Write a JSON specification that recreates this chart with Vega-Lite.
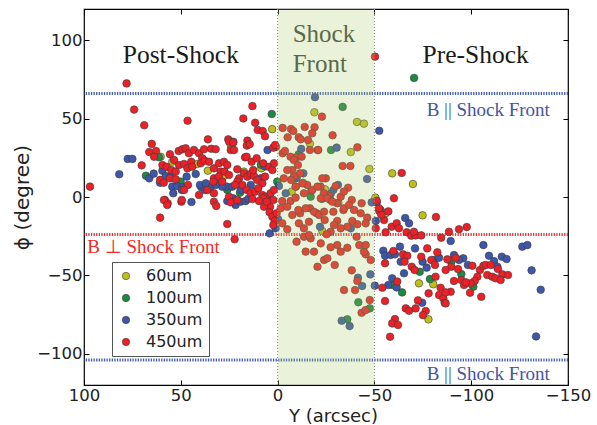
{
  "$schema": "https://vega.github.io/schema/vega-lite/v6.json",
  "width": 484,
  "height": 376,
  "autosize": {"type": "none"},
  "padding": {"left": 84, "top": 9, "right": 29, "bottom": 40},
  "background": "white",
  "config": {
    "view": {"stroke": "#000", "strokeWidth": 1.2},
    "axis": {"domain": false, "grid": false, "ticks": true, "tickSize": -5, "tickColor": "#000", "tickWidth": 1,
      "labelFont": "DejaVu Sans", "labelFontSize": 16.5, "labelColor": "#222", "labelFlush": false,
      "titleFont": "DejaVu Sans", "titleFontSize": 20, "titleFontWeight": "normal", "titleColor": "#222"},
    "legend": {"orient": "none", "legendX": 28, "legendY": 253, "title": null, "padding": 6, "rowPadding": 6,
      "labelFont": "DejaVu Sans", "labelFontSize": 16, "labelColor": "#222", "labelOffset": 12,
      "symbolType": "circle", "symbolSize": 55, "symbolStrokeColor": "#3a3a3a", "symbolStrokeWidth": 0.6,
      "strokeColor": "#555", "fillColor": "white", "cornerRadius": 0}
  },
  "datasets": {
    "pts": [
      {"b":"60um","x":2.8,"y":43.3},{"b":"60um","x":-19,"y":54.1},{"b":"60um","x":-16.7,"y":34},{"b":"60um","x":24.2,"y":33.2},
      {"b":"60um","x":-41,"y":47.9},{"b":"60um","x":-44.6,"y":46.8},{"b":"60um","x":-37.8,"y":28.7},{"b":"60um","x":-47.4,"y":17.9},
      {"b":"60um","x":-59.2,"y":15.1},{"b":"60um","x":-69.9,"y":8.3},{"b":"60um","x":-50.5,"y":-0.4},{"b":"60um","x":-74.9,"y":-11.7},
      {"b":"60um","x":-23.1,"y":-21.7},{"b":"60um","x":-73,"y":-55.1},{"b":"60um","x":-77.9,"y":-78.1},{"b":"60um","x":60.4,"y":25.7},
      {"b":"60um","x":54.4,"y":22.5},{"b":"60um","x":41.5,"y":21.1},{"b":"60um","x":36,"y":16.8},{"b":"60um","x":17.4,"y":16.2},
      {"b":"60um","x":8.4,"y":18.3},{"b":"60um","x":27.7,"y":13.4},{"b":"60um","x":-13.1,"y":9.1},{"b":"60um","x":-9.5,"y":6.6},
      {"b":"60um","x":-7.3,"y":3.4},{"b":"60um","x":-31.4,"y":-3.6},{"b":"60um","x":-24.5,"y":4.9},{"b":"60um","x":-55.8,"y":-10.4},
      {"b":"60um","x":-80.4,"y":-55.7},

      {"b":"100um","x":3,"y":53},{"b":"100um","x":-70.5,"y":76},{"b":"100um","x":-33.6,"y":57.5},{"b":"100um","x":-27.6,"y":30},
      {"b":"100um","x":-10.9,"y":27.3},{"b":"100um","x":68,"y":13.6},{"b":"100um","x":61.3,"y":25.4},{"b":"100um","x":50.1,"y":9.8},
      {"b":"100um","x":26,"y":4.5},{"b":"100um","x":0.2,"y":9.8},{"b":"100um","x":-9,"y":11.9},{"b":"100um","x":-17.1,"y":0.2},
      {"b":"100um","x":-22.9,"y":-1.2},{"b":"100um","x":-53.2,"y":-8.3},{"b":"100um","x":-73.4,"y":-47.7},{"b":"100um","x":-59.4,"y":-56.2},
      {"b":"100um","x":-64.3,"y":-60.9},{"b":"100um","x":-78.7,"y":-52.4},{"b":"100um","x":-41.7,"y":-67.2},{"b":"100um","x":-47.6,"y":-71.1},
      {"b":"100um","x":-94.9,"y":-49.2},{"b":"100um","x":-101.1,"y":-57.3},{"b":"100um","x":-89.7,"y":-41.3},{"b":"100um","x":-36,"y":-78.1},
      {"b":"100um","x":19.4,"y":2.7},{"b":"100um","x":8.6,"y":20.6},

      {"b":"350um","x":-19.3,"y":63.7},{"b":"350um","x":-52.5,"y":42.3},{"b":"350um","x":77.4,"y":24.3},{"b":"350um","x":75,"y":24.3},
      {"b":"350um","x":81.8,"y":14.5},{"b":"350um","x":66.3,"y":11.9},{"b":"350um","x":64,"y":14.9},{"b":"350um","x":59.5,"y":16.8},
      {"b":"350um","x":57.8,"y":13.4},{"b":"350um","x":55.2,"y":13},{"b":"350um","x":60.7,"y":9.1},{"b":"350um","x":54.4,"y":6.6},
      {"b":"350um","x":51.8,"y":7},{"b":"350um","x":49.2,"y":6.2},{"b":"350um","x":47,"y":13},{"b":"350um","x":42.3,"y":14.7},
      {"b":"350um","x":39.4,"y":6.2},{"b":"350um","x":53.9,"y":2.4},{"b":"350um","x":49.5,"y":4.5},{"b":"350um","x":40.1,"y":7.7},
      {"b":"350um","x":37.5,"y":4.5},{"b":"350um","x":32.4,"y":9.1},{"b":"350um","x":35.8,"y":5.6},{"b":"350um","x":29.8,"y":8.7},
      {"b":"350um","x":26.3,"y":6.6},{"b":"350um","x":34.6,"y":6.6},{"b":"350um","x":28.6,"y":6.6},{"b":"350um","x":23.4,"y":6.6},
      {"b":"350um","x":19.1,"y":4.5},{"b":"350um","x":13.9,"y":7.7},{"b":"350um","x":8.7,"y":11.9},{"b":"350um","x":5.3,"y":0.2},
      {"b":"350um","x":-0.7,"y":7},{"b":"350um","x":-4.2,"y":2.4},{"b":"350um","x":-9.7,"y":12.1},{"b":"350um","x":22.9,"y":35.3},
      {"b":"350um","x":5.2,"y":30},{"b":"350um","x":-12.2,"y":30.7},{"b":"350um","x":-30.5,"y":31.5},{"b":"350um","x":-46.2,"y":11.5},
      {"b":"350um","x":-31.2,"y":7.7},{"b":"350um","x":-28.8,"y":4.5},{"b":"350um","x":-27.4,"y":1.9},{"b":"350um","x":44.5,"y":-3.2},
      {"b":"350um","x":26,"y":-2.6},{"b":"350um","x":21.7,"y":-5.1},{"b":"350um","x":19.1,"y":-3},{"b":"350um","x":16.5,"y":-2.6},
      {"b":"350um","x":22.9,"y":-0.8},{"b":"350um","x":15.1,"y":-1.1},{"b":"350um","x":4.1,"y":-23.2},{"b":"350um","x":1,"y":-20},
      {"b":"350um","x":-0.2,"y":-14},{"b":"350um","x":-21.9,"y":-19},{"b":"350um","x":-37.8,"y":-20},{"b":"350um","x":-48.6,"y":-3.4},
      {"b":"350um","x":-51.2,"y":-3.4},{"b":"350um","x":-65.9,"y":-13.4},{"b":"350um","x":-67.9,"y":-16.8},{"b":"350um","x":-50.7,"y":-15.3},
      {"b":"350um","x":-54.6,"y":-34.3},{"b":"350um","x":-55.5,"y":-37.5},{"b":"350um","x":-58.4,"y":-37},{"b":"350um","x":-60.6,"y":-36.6},
      {"b":"350um","x":-63.2,"y":-31.7},{"b":"350um","x":-63.6,"y":-41.3},{"b":"350um","x":-65.3,"y":-48.7},{"b":"350um","x":-71,"y":-32.8},
      {"b":"350um","x":-74.9,"y":-41.3},{"b":"350um","x":-77,"y":-45.1},{"b":"350um","x":-80.8,"y":-40.2},{"b":"350um","x":-83.4,"y":-38.8},
      {"b":"350um","x":-59.2,"y":-51.9},{"b":"350um","x":-57.2,"y":-56.2},{"b":"350um","x":-61.5,"y":-57.7},{"b":"350um","x":-50.2,"y":-56.6},
      {"b":"350um","x":-47.9,"y":-49.4},{"b":"350um","x":-43.7,"y":-56.8},{"b":"350um","x":-41.5,"y":-51.5},{"b":"350um","x":-74.7,"y":-67.5},
      {"b":"350um","x":-33.1,"y":-79},{"b":"350um","x":-37.2,"y":-82.4},{"b":"350um","x":-89.4,"y":-28.1},{"b":"350um","x":-106.3,"y":-30.7},
      {"b":"350um","x":-126.4,"y":-31.7},{"b":"350um","x":-129,"y":-30.7},{"b":"350um","x":-131.2,"y":-46.8},{"b":"350um","x":-135.9,"y":-59.2},
      {"b":"350um","x":-133.5,"y":-89},{"b":"350um","x":-91.1,"y":-37},{"b":"350um","x":-95.9,"y":-39.1},{"b":"350um","x":-98.3,"y":-43.4},
      {"b":"350um","x":-93.7,"y":-40.2},{"b":"350um","x":-109.2,"y":-37.5},{"b":"350um","x":-111.8,"y":-40.9},{"b":"350um","x":-113.5,"y":-44.5},
      {"b":"350um","x":-115.8,"y":-38.1},{"b":"350um","x":-118.3,"y":-39.6},{"b":"350um","x":-9.9,"y":13},{"b":"350um","x":-13.3,"y":15.1},
      {"b":"350um","x":6.5,"y":19.5},{"b":"350um","x":37.1,"y":8.7},{"b":"350um","x":32,"y":7.7},

      {"b":"450um","x":96.9,"y":6.6},{"b":"450um","x":78,"y":72.5},{"b":"450um","x":74.1,"y":55.8},{"b":"450um","x":68.9,"y":45.8},
      {"b":"450um","x":46.5,"y":48.7},{"b":"450um","x":13,"y":58},{"b":"450um","x":17.7,"y":50.1},{"b":"450um","x":11.6,"y":47.4},
      {"b":"450um","x":10.3,"y":42.8},{"b":"450um","x":7.7,"y":42.1},{"b":"450um","x":6.5,"y":38.8},{"b":"450um","x":0.8,"y":32},
      {"b":"450um","x":2.2,"y":31.5},{"b":"450um","x":1.3,"y":33.2},{"b":"450um","x":65,"y":33.9},{"b":"450um","x":66.3,"y":28.7},
      {"b":"450um","x":62.8,"y":29.4},{"b":"450um","x":63.8,"y":25.7},{"b":"450um","x":70.2,"y":20.2},{"b":"450um","x":60.7,"y":10.9},
      {"b":"450um","x":58.8,"y":9.1},{"b":"450um","x":58.2,"y":-1.9},{"b":"450um","x":56.8,"y":-4},{"b":"450um","x":60.7,"y":-13.2},
      {"b":"450um","x":49.7,"y":-3},{"b":"450um","x":40.6,"y":1.3},{"b":"450um","x":49.5,"y":-1.9},{"b":"450um","x":55.6,"y":27.3},
      {"b":"450um","x":53.5,"y":23.6},{"b":"450um","x":51.1,"y":29.4},{"b":"450um","x":49.2,"y":30.5},{"b":"450um","x":47.5,"y":31.1},
      {"b":"450um","x":45.8,"y":27.9},{"b":"450um","x":43.2,"y":30},{"b":"450um","x":40.6,"y":27.9},{"b":"450um","x":38.9,"y":24.7},
      {"b":"450um","x":39.7,"y":21.5},{"b":"450um","x":37.7,"y":23.2},{"b":"450um","x":59.5,"y":20.4},{"b":"450um","x":57.3,"y":19.3},
      {"b":"450um","x":54.9,"y":17.2},{"b":"450um","x":52.6,"y":16.2},{"b":"450um","x":50.9,"y":20.4},{"b":"450um","x":48.3,"y":21.1},
      {"b":"450um","x":46.6,"y":18.3},{"b":"450um","x":44.6,"y":22.5},{"b":"450um","x":44.1,"y":19.3},{"b":"450um","x":55.6,"y":11.9},
      {"b":"450um","x":52.6,"y":11.3},{"b":"450um","x":46.3,"y":7.7},{"b":"450um","x":48.3,"y":4.5},{"b":"450um","x":36,"y":36.8},
      {"b":"450um","x":25.5,"y":36.8},{"b":"450um","x":25,"y":35.3},{"b":"450um","x":22.9,"y":34.7},{"b":"450um","x":24.2,"y":30},
      {"b":"450um","x":22.5,"y":30},{"b":"450um","x":15.6,"y":36},{"b":"450um","x":15.9,"y":32.8},{"b":"450um","x":14.4,"y":33.7},
      {"b":"450um","x":38,"y":30.5},{"b":"450um","x":34.3,"y":30.8},{"b":"450um","x":32,"y":30.5},{"b":"450um","x":16.8,"y":25.3},
      {"b":"450um","x":35.4,"y":22.5},{"b":"450um","x":32.9,"y":18.3},{"b":"450um","x":30.3,"y":21.5},{"b":"450um","x":29.4,"y":16.2},
      {"b":"450um","x":27.7,"y":22.5},{"b":"450um","x":26,"y":20.4},{"b":"450um","x":32.9,"y":11.9},{"b":"450um","x":30.3,"y":13},
      {"b":"450um","x":28.6,"y":9.8},{"b":"450um","x":27.4,"y":16.2},{"b":"450um","x":25.1,"y":14},{"b":"450um","x":20.8,"y":17.7},
      {"b":"450um","x":19.9,"y":11.9},{"b":"450um","x":17.4,"y":15.1},{"b":"450um","x":15.6,"y":13},{"b":"450um","x":13.9,"y":14.7},
      {"b":"450um","x":12.2,"y":13.4},{"b":"450um","x":10.5,"y":10.9},{"b":"450um","x":7.9,"y":8.7},{"b":"450um","x":6.5,"y":13},
      {"b":"450um","x":4.5,"y":19.3},{"b":"450um","x":2.7,"y":17.2},{"b":"450um","x":1.9,"y":21.5},{"b":"450um","x":20.8,"y":9.8},
      {"b":"450um","x":18.2,"y":7.7},{"b":"450um","x":16,"y":4.5},{"b":"450um","x":13.9,"y":2.4},{"b":"450um","x":11.7,"y":3.4},
      {"b":"450um","x":10,"y":5.6},{"b":"450um","x":7.9,"y":1.3},{"b":"450um","x":6.2,"y":0.2},{"b":"450um","x":3.6,"y":2.4},
      {"b":"450um","x":1.9,"y":4.5},{"b":"450um","x":36.3,"y":4.5},{"b":"450um","x":32.9,"y":2.4},{"b":"450um","x":25.1,"y":0.2},
      {"b":"450um","x":33.2,"y":9.8},{"b":"450um","x":22,"y":7.7},{"b":"450um","x":7.4,"y":-0.8},{"b":"450um","x":5.6,"y":-4},
      {"b":"450um","x":3.9,"y":-6.2},{"b":"450um","x":2.2,"y":-1.9},{"b":"450um","x":16,"y":25.7},{"b":"450um","x":13.4,"y":22.5},
      {"b":"450um","x":10.8,"y":24.7},{"b":"450um","x":7.4,"y":21.5},{"b":"450um","x":12.6,"y":17.2},{"b":"450um","x":58.7,"y":-1.9},
      {"b":"450um","x":57,"y":-5.1},{"b":"450um","x":26,"y":-17.2},{"b":"450um","x":22.2,"y":-27},{"b":"450um","x":32.9,"y":-3},
      {"b":"450um","x":31.7,"y":-5.7},{"b":"450um","x":24.2,"y":-3.4},{"b":"450um","x":20.8,"y":-1.9},{"b":"450um","x":13,"y":-1.3},
      {"b":"450um","x":9.6,"y":-2.6},{"b":"450um","x":7,"y":-6.2},{"b":"450um","x":5.6,"y":-3},{"b":"450um","x":4.1,"y":-9.8},
      {"b":"450um","x":2.7,"y":-12.6},{"b":"450um","x":1.5,"y":-15.3},{"b":"450um","x":0.5,"y":-10.4},{"b":"450um","x":2.2,"y":-17.9},
      {"b":"450um","x":-2.6,"y":44.1},{"b":"450um","x":-6.9,"y":43.4},{"b":"450um","x":-8.1,"y":42.1},{"b":"450um","x":-14,"y":44.7},
      {"b":"450um","x":-19.1,"y":44.5},{"b":"450um","x":-22.9,"y":51.3},{"b":"450um","x":-17.9,"y":40.7},{"b":"450um","x":-5.2,"y":38.1},
      {"b":"450um","x":-10.9,"y":38.1},{"b":"450um","x":-15.7,"y":36.4},{"b":"450um","x":-11.9,"y":36.8},{"b":"450um","x":-20.7,"y":30},
      {"b":"450um","x":-2.6,"y":27.9},{"b":"450um","x":-6.7,"y":25.7},{"b":"450um","x":-3.8,"y":29.4},{"b":"450um","x":-9.8,"y":25.3},
      {"b":"450um","x":-28.4,"y":39.4},{"b":"450um","x":-41.2,"y":31.7},{"b":"450um","x":-33.6,"y":19.8},{"b":"450um","x":-37.6,"y":19.8},
      {"b":"450um","x":-24.9,"y":11.9},{"b":"450um","x":-36.4,"y":5.9},{"b":"450um","x":-30,"y":7},{"b":"450um","x":-26.5,"y":0.8},
      {"b":"450um","x":-32.6,"y":0.2},{"b":"450um","x":-50.3,"y":89.6},{"b":"450um","x":-12.4,"y":25.7},{"b":"450um","x":-16.7,"y":30},
      {"b":"450um","x":-21,"y":30},{"b":"450um","x":-17.4,"y":4},{"b":"450um","x":-8.4,"y":23.6},{"b":"450um","x":-10.5,"y":20.4},
      {"b":"450um","x":-7.6,"y":17.2},{"b":"450um","x":-11.6,"y":15.1},{"b":"450um","x":-8.4,"y":13},{"b":"450um","x":-15.3,"y":7.7},
      {"b":"450um","x":-22.2,"y":6.6},{"b":"450um","x":-23.9,"y":2.4},{"b":"450um","x":-34.2,"y":3.4},{"b":"450um","x":-27.3,"y":-1.9},
      {"b":"450um","x":-30.8,"y":-4},{"b":"450um","x":-38.3,"y":-1.9},{"b":"450um","x":-43.4,"y":-4},{"b":"450um","x":-34,"y":-8.3},
      {"b":"450um","x":-28.8,"y":-9.4},{"b":"450um","x":-16.7,"y":-7.2},{"b":"450um","x":-20.2,"y":-10.4},{"b":"450um","x":-11.6,"y":-10.4},
      {"b":"450um","x":-5,"y":17.2},{"b":"450um","x":-3.2,"y":11.9},{"b":"450um","x":-7,"y":10.9},{"b":"450um","x":-12.8,"y":8.7},
      {"b":"450um","x":-9.3,"y":6.6},{"b":"450um","x":-17.9,"y":4.5},{"b":"450um","x":-13.6,"y":2.4},{"b":"450um","x":-23.1,"y":11.9},
      {"b":"450um","x":-20.6,"y":6.6},{"b":"450um","x":-2.4,"y":-2.6},{"b":"450um","x":-6.7,"y":-2.6},{"b":"450um","x":-9.3,"y":-0.4},
      {"b":"450um","x":-1.6,"y":-7.2},{"b":"450um","x":-5,"y":-6.2},{"b":"450um","x":-7.6,"y":-11.5},{"b":"450um","x":-10.7,"y":-8.3},
      {"b":"450um","x":-14.5,"y":-7.2},{"b":"450um","x":-22.3,"y":-0.8},{"b":"450um","x":-2.4,"y":-16.8},{"b":"450um","x":-5,"y":-20.6},
      {"b":"450um","x":-11,"y":-16.8},{"b":"450um","x":-13.6,"y":-20},{"b":"450um","x":-16.2,"y":-15.8},{"b":"450um","x":-18.8,"y":-9.4},
      {"b":"450um","x":-21.4,"y":-11.5},{"b":"450um","x":-24,"y":-9.4},{"b":"450um","x":-24.3,"y":-14.7},{"b":"450um","x":-13.6,"y":-25.4},
      {"b":"450um","x":-17.1,"y":-26.4},{"b":"450um","x":-14.5,"y":-34.9},{"b":"450um","x":-18.8,"y":-34.9},{"b":"450um","x":-9.8,"y":-28.5},
      {"b":"450um","x":-22.3,"y":-29.6},{"b":"450um","x":-20.6,"y":-44.5},{"b":"450um","x":-24,"y":-40.2},{"b":"450um","x":-16.2,"y":-24.3},
      {"b":"450um","x":-43.4,"y":-73.9},{"b":"450um","x":-45.5,"y":-72.2},{"b":"450um","x":-47.6,"y":-65.8},{"b":"450um","x":-41.2,"y":-53.6},
      {"b":"450um","x":-40,"y":-59.4},{"b":"450um","x":-34.3,"y":-59.4},{"b":"450um","x":-48.1,"y":-40.2},{"b":"450um","x":-45.5,"y":-36.6},
      {"b":"450um","x":-44.6,"y":-34.9},{"b":"450um","x":-38.3,"y":-46.8},{"b":"450um","x":-29.5,"y":-43.4},{"b":"450um","x":-32.6,"y":-34.9},
      {"b":"450um","x":-36,"y":-32.4},{"b":"450um","x":-30.8,"y":-30.7},{"b":"450um","x":-27.4,"y":-32.1},{"b":"450um","x":-25.7,"y":-39.1},
      {"b":"450um","x":-25.7,"y":-0.8},{"b":"450um","x":-28.3,"y":-3},{"b":"450um","x":-34.3,"y":-7.2},{"b":"450um","x":-36.9,"y":-5.1},
      {"b":"450um","x":-39.5,"y":-8.3},{"b":"450um","x":-42.9,"y":-10.4},{"b":"450um","x":-46.3,"y":-13.2},{"b":"450um","x":-45.5,"y":-16.8},
      {"b":"450um","x":-41.2,"y":-17.4},{"b":"450um","x":-38.6,"y":-15.3},{"b":"450um","x":-36,"y":-19},{"b":"450um","x":-32.6,"y":-20},
      {"b":"450um","x":-30.8,"y":-15.3},{"b":"450um","x":-29.1,"y":-17.9},{"b":"450um","x":-27.4,"y":-22.2},{"b":"450um","x":-25.3,"y":-23.8},
      {"b":"450um","x":-40.8,"y":-25.4},{"b":"450um","x":-42.2,"y":-30.7},{"b":"450um","x":-45.5,"y":-30.7},
      {"b":"450um","x":-64.1,"y":15.3},{"b":"450um","x":-60.1,"y":-0.8},{"b":"450um","x":-81.8,"y":-12.8},{"b":"450um","x":-51.2,"y":-2.4},
      {"b":"450um","x":-52.5,"y":-8.9},{"b":"450um","x":-57.2,"y":-9.2},{"b":"450um","x":-55,"y":-14.7},{"b":"450um","x":-53.6,"y":-11.5},
      {"b":"450um","x":-52.4,"y":-7.2},{"b":"450um","x":-50.7,"y":-20},{"b":"450um","x":-58.9,"y":-19},{"b":"450um","x":-61.5,"y":-16.8},
      {"b":"450um","x":-62.7,"y":-20},{"b":"450um","x":-66.7,"y":-22.5},{"b":"450um","x":-69,"y":-24.7},{"b":"450um","x":-71.3,"y":-24.5},
      {"b":"450um","x":-74.2,"y":-24.5},{"b":"450um","x":-70.4,"y":-22.2},{"b":"450um","x":-84.5,"y":-26},{"b":"450um","x":-55.8,"y":-22.5},
      {"b":"450um","x":-59.8,"y":-34.5},{"b":"450um","x":-64.8,"y":-36.6},{"b":"450um","x":-67,"y":-37.5},{"b":"450um","x":-65.6,"y":-41.3},
      {"b":"450um","x":-69.3,"y":-44.5},{"b":"450um","x":-70.8,"y":-46.6},{"b":"450um","x":-74.2,"y":-38.1},{"b":"450um","x":-77.3,"y":-32.8},
      {"b":"450um","x":-79.4,"y":-40.2},{"b":"450um","x":-81.3,"y":-43.4},{"b":"450um","x":-82.5,"y":-35.3},{"b":"450um","x":-55.5,"y":-42.3},
      {"b":"450um","x":-61.8,"y":-54},{"b":"450um","x":-54.1,"y":-57.9},{"b":"450um","x":-81.6,"y":-50.9},{"b":"450um","x":-84.2,"y":-57.9},
      {"b":"450um","x":-78,"y":-61.5},{"b":"450um","x":-83.4,"y":-62.6},{"b":"450um","x":-85.6,"y":-64.7},{"b":"450um","x":-86.3,"y":-67.5},
      {"b":"450um","x":-55.5,"y":-66.4},{"b":"450um","x":-72.5,"y":-66},{"b":"450um","x":-76.5,"y":-72.8},{"b":"450um","x":-75.1,"y":-75.4},
      {"b":"450um","x":-66.2,"y":-71.1},{"b":"450um","x":-67.9,"y":-72.6},{"b":"450um","x":-71.3,"y":-71.1},{"b":"450um","x":-60.6,"y":-77.9},
      {"b":"450um","x":-59.2,"y":-80.7},{"b":"450um","x":-62.2,"y":-81.7},{"b":"450um","x":-58.1,"y":-89.2},
      {"b":"450um","x":-88.5,"y":-22.2},{"b":"450um","x":-93.7,"y":-20.6},{"b":"450um","x":-97.7,"y":-19.2},{"b":"450um","x":-87.7,"y":-39.8},
      {"b":"450um","x":-92,"y":-38.8},{"b":"450um","x":-89.7,"y":-44.5},{"b":"450um","x":-93.2,"y":-46},{"b":"450um","x":-86.8,"y":-46.6},
      {"b":"450um","x":-100.6,"y":-43.9},{"b":"450um","x":-104.5,"y":-46.6},{"b":"450um","x":-106.3,"y":-43.9},{"b":"450um","x":-107.5,"y":-43.4},
      {"b":"450um","x":-110.1,"y":-43.4},{"b":"450um","x":-113.8,"y":-46},{"b":"450um","x":-116.1,"y":-49.4},{"b":"450um","x":-119,"y":-49.8},
      {"b":"450um","x":-108.3,"y":-49.8},{"b":"450um","x":-110.9,"y":-50.9},{"b":"450um","x":-112.6,"y":-51.9},{"b":"450um","x":-115.2,"y":-53},
      {"b":"450um","x":-103.2,"y":-50.9},{"b":"450um","x":-101.8,"y":-53.6},{"b":"450um","x":-99.7,"y":-55.1},{"b":"450um","x":-96.3,"y":-56.2},
      {"b":"450um","x":-91.1,"y":-53.6},{"b":"450um","x":-94.9,"y":-53},{"b":"450um","x":-97.2,"y":-54.5},{"b":"450um","x":-89.4,"y":-60.5},
      {"b":"450um","x":-86.8,"y":-60.9},{"b":"450um","x":-86.8,"y":-67.9},{"b":"450um","x":-99.4,"y":-61.1},{"b":"450um","x":-105.2,"y":-63.7}
    ]
  },
  "resolve": {"axis": {"x": "independent", "y": "independent"}},
  "layer": [
    {
      "data": {"values": [{"h": 66}, {"h": -104}]},
      "mark": {"type": "rule", "color": "#3f5bb0", "strokeWidth": 3, "strokeDash": [1.3, 1.3]},
      "encoding": {"y": {"field": "h", "type": "quantitative", "axis": null, "scale": {"domain": [-120, 120], "nice": false, "zero": false}}}
    },
    {
      "data": {"values": [{}]},
      "mark": {"type": "rule", "color": "#f03232", "strokeWidth": 3, "strokeDash": [1.3, 1.3]},
      "encoding": {"y": {"datum": -24, "type": "quantitative", "axis": null, "scale": {"domain": [-120, 120], "nice": false, "zero": false}}}
    },
    {
      "data": {"name": "pts"},
      "mark": {"type": "circle", "size": 58, "opacity": 1, "stroke": "#3a3a3a", "strokeWidth": 0.6},
      "encoding": {
        "x": {"field": "x", "type": "quantitative",
          "scale": {"domain": [-150, 100], "reverse": true, "nice": false, "zero": false},
          "axis": {"orient": "bottom", "values": [100, 50, 0, -50, -100, -150], "title": "Y (arcsec)", "labelPadding": 7,
            "titleFontSize": 18, "titleX": 249, "titleY": 36, "titleBaseline": "alphabetic", "titleAlign": "center"}},
        "y": {"field": "y", "type": "quantitative",
          "scale": {"domain": [-120, 120], "nice": false, "zero": false},
          "axis": {"orient": "left", "values": [-100, -50, 0, 50, 100], "title": "ϕ (degree)", "labelPadding": 7, "titlePadding": 4}},
        "color": {"field": "b", "type": "nominal",
          "scale": {"domain": ["60um", "100um", "350um", "450um"], "range": ["#bfbf1a", "#1b8a43", "#3d56a8", "#ec2026"]}}
      }
    },
    {
      "data": {"values": [{}]},
      "mark": {"type": "rect", "color": "#abcb6b", "opacity": 0.25},
      "encoding": {
        "x": {"datum": 0, "type": "quantitative", "axis": null, "scale": {"domain": [-150, 100], "reverse": true, "nice": false, "zero": false}},
        "x2": {"datum": -50},
        "y": {"datum": 120, "type": "quantitative", "axis": null, "scale": {"domain": [-120, 120], "nice": false, "zero": false}},
        "y2": {"datum": -120}
      }
    },
    {
      "data": {"values": [{"v": 0}, {"v": -50}]},
      "mark": {"type": "rule", "color": "#888888", "strokeWidth": 1, "strokeDash": [1, 2]},
      "encoding": {"x": {"field": "v", "type": "quantitative", "axis": null, "scale": {"domain": [-150, 100], "reverse": true, "nice": false, "zero": false}}}
    },
    {
      "data": {"values": [{}]},
      "mark": {"type": "text", "text": "Post-Shock", "font": "Liberation Serif", "fontSize": 25.5, "color": "#1a1a1a", "align": "center", "baseline": "alphabetic"},
      "encoding": {
        "x": {"datum": 50, "type": "quantitative", "axis": null},
        "y": {"datum": 85.4, "type": "quantitative", "axis": null}
      }
    },
    {
      "data": {"values": [{}]},
      "mark": {"type": "text", "text": "Pre-Shock", "font": "Liberation Serif", "fontSize": 25.5, "color": "#1a1a1a", "align": "center", "baseline": "alphabetic"},
      "encoding": {
        "x": {"datum": -102.3, "type": "quantitative", "axis": null},
        "y": {"datum": 85.4, "type": "quantitative", "axis": null}
      }
    },
    {
      "data": {"values": [{}]},
      "mark": {"type": "text", "text": ["Shock", "Front"], "lineHeight": 30, "font": "Liberation Serif", "fontSize": 25, "color": "#5a6a48", "align": "left", "baseline": "alphabetic"},
      "encoding": {
        "x": {"datum": -7.8, "type": "quantitative", "axis": null},
        "y": {"datum": 99.2, "type": "quantitative", "axis": null}
      }
    },
    {
      "data": {"values": [{}]},
      "mark": {"type": "text", "text": "B || Shock Front", "font": "Liberation Serif", "fontSize": 19, "color": "#3f56a6", "align": "left", "baseline": "alphabetic"},
      "encoding": {
        "x": {"datum": -77, "type": "quantitative", "axis": null},
        "y": {"datum": 51.7, "type": "quantitative", "axis": null}
      }
    },
    {
      "data": {"values": [{}]},
      "mark": {"type": "text", "text": "B || Shock Front", "font": "Liberation Serif", "fontSize": 19, "color": "#3f56a6", "align": "left", "baseline": "alphabetic"},
      "encoding": {
        "x": {"datum": -77, "type": "quantitative", "axis": null},
        "y": {"datum": -116.9, "type": "quantitative", "axis": null}
      }
    },
    {
      "data": {"values": [{}]},
      "mark": {"type": "text", "text": "B ⊥ Shock Front", "font": "Liberation Serif", "fontSize": 19, "color": "#f02a2a", "align": "left", "baseline": "alphabetic"},
      "encoding": {
        "x": {"datum": 98.3, "type": "quantitative", "axis": null},
        "y": {"datum": -36, "type": "quantitative", "axis": null}
      }
    },
    {
      "data": {"values": [{}]},
      "mark": {"type": "point", "opacity": 0},
      "encoding": {
        "x": {"datum": 0, "type": "quantitative",
          "scale": {"domain": [-150, 100], "reverse": true, "nice": false, "zero": false},
          "axis": {"orient": "top", "values": [100, 50, 0, -50, -100, -150], "labels": false, "title": null}},
        "y": {"datum": 0, "type": "quantitative",
          "scale": {"domain": [-120, 120], "nice": false, "zero": false},
          "axis": {"orient": "right", "values": [-100, -50, 0, 50, 100], "labels": false, "title": null}}
      }
    }
  ]
}
